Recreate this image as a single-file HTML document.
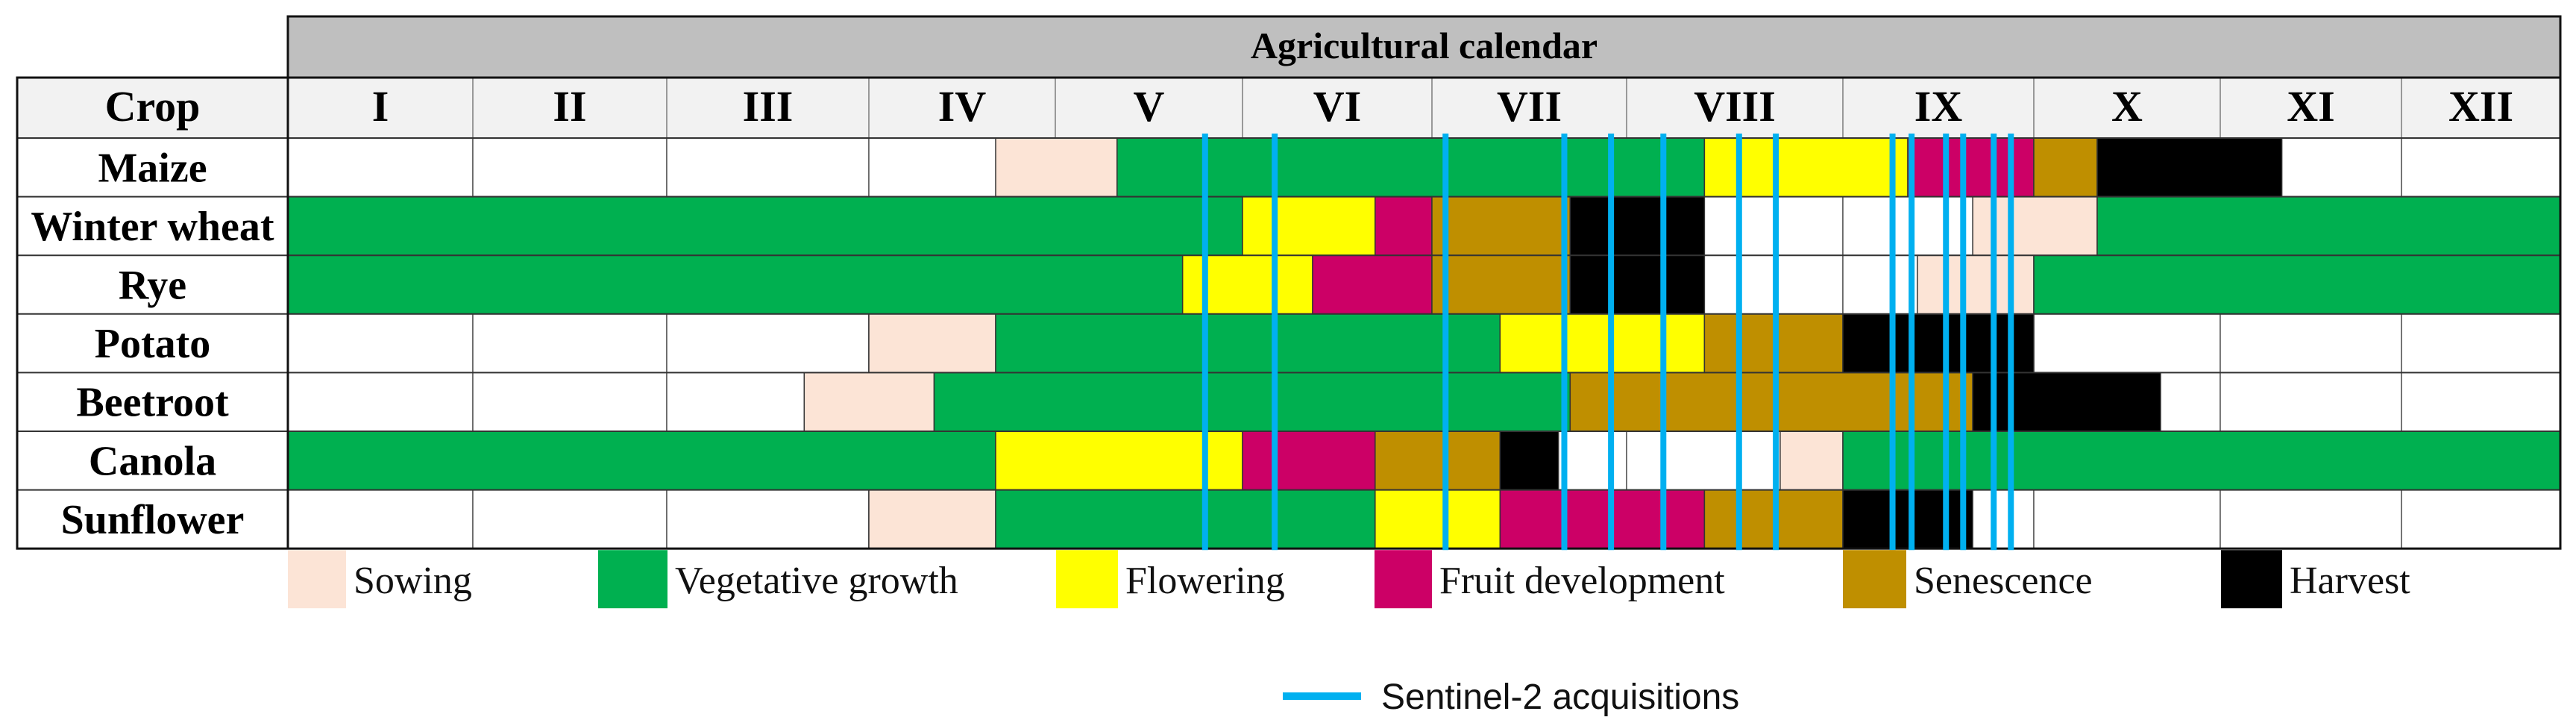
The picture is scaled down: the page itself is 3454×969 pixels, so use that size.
<!DOCTYPE html>
<html><head><meta charset="utf-8"><style>
html,body{margin:0;padding:0;background:#fff;}
svg{display:block;}
</style></head>
<body>
<svg id="chart" width="3454" height="969" xmlns="http://www.w3.org/2000/svg">
<g id="layer-bg"></g>
<g id="layer-seg"></g>
<g id="layer-grid"></g>
<g id="layer-lines"></g>
<g id="layer-text"></g>
</svg>
<script>
// ---- data ----
const months = ["I","II","III","IV","V","VI","VII","VIII","IX","X","XI","XII"];
const crops = ["Maize","Winter wheat","Rye","Potato","Beetroot","Canola","Sunflower"];
const phaseNames = ["Sowing","Vegetative growth","Flowering","Fruit development","Senescence","Harvest"];
// segments per crop: [startMonth, endMonth, phaseIndex] (months as fractional 0..12)
const maizeSegs = [[3.68,4.33,0],[4.33,7.36,1],[7.36,8.34,2],[8.34,9.0,3],[9.0,9.34,4],[9.34,10.34,5]];
const wheatSegs = [[0,5.0,1],[5.0,5.7,2],[5.7,6.0,3],[6.0,6.71,4],[6.71,7.36,5],[8.68,9.34,0],[9.34,12,1]];
const ryeSegs = [[0,4.68,1],[4.68,5.37,2],[5.37,6.0,3],[6.0,6.71,4],[6.71,7.36,5],[8.39,9.0,0],[9.0,12,1]];
const potatoSegs = [[3.0,3.68,0],[3.68,6.35,1],[6.35,7.36,2],[7.36,8.0,4],[8.0,9.0,5]];
const beetSegs = [[2.68,3.35,0],[3.35,6.71,1],[6.71,8.68,4],[8.68,9.68,5]];
const canolaSegs = [[0,3.68,1],[3.68,5.0,2],[5.0,5.7,3],[5.7,6.35,4],[6.35,6.65,5],[7.71,8.0,0],[8.0,12,1]];
const sunSegs = [[3.0,3.68,0],[3.68,5.7,1],[5.7,6.35,2],[6.35,7.36,3],[7.36,8.0,4],[8.0,8.68,5]];
const cropSegs = [maizeSegs,wheatSegs,ryeSegs,potatoSegs,beetSegs,canolaSegs,sunSegs];
// Sentinel-2 acquisition dates (fractional month)
const acquisitions = [4.80,5.17,6.07,6.68,6.92,7.17,7.52,7.69,8.26,8.36,8.54,8.63,8.79,8.88];

// ---- layout ----
const phaseColors = ["#fce4d6","#00b050","#ffff00","#cc0066","#bf8f00","#000000"];
const monthEdges = [386,634,894,1165,1415,1666,1920,2181,2471,2727,2977,3220,3433];
const tableLeft = 23, titleTop = 22, headerTop = 104, rowTop = 185, rowH = 78.6;
const NS = "http://www.w3.org/2000/svg";
function xScale(m){ const i=Math.min(11,Math.floor(m)); return monthEdges[i]+(m-i)*(monthEdges[i+1]-monthEdges[i]); }
function yRow(r){ return rowTop + r*rowH; }
function mk(tag, attrs, parent){ const e=document.createElementNS(NS,tag); for(const k in attrs) e.setAttribute(k,attrs[k]); parent.appendChild(e); return e; }
const bg=document.getElementById('layer-bg'), seg=document.getElementById('layer-seg'), grid=document.getElementById('layer-grid'), lines=document.getElementById('layer-lines'), txt=document.getElementById('layer-text');
const right = monthEdges[12], bottom = yRow(crops.length);

let t = mk('rect',{x:386,y:titleTop,width:right-386,height:headerTop-titleTop,fill:'#bfbfbf',stroke:'#111','stroke-width':3},bg);


let tt = mk('text',{x:(386+right)/2,y:titleTop+56,'text-anchor':'middle','font-family':'"Liberation Serif",serif','font-weight':'bold','font-size':50,fill:'#000'},txt);
tt.textContent='Agricultural calendar';


let h = mk('rect',{x:tableLeft,y:headerTop,width:right-tableLeft,height:rowTop-headerTop,fill:'#f2f2f2'},bg);


let ct = mk('text',{x:(tableLeft+386)/2,y:headerTop+58,'text-anchor':'middle','font-family':'"Liberation Serif",serif','font-weight':'bold','font-size':58},txt);
ct.textContent='Crop';


months.forEach((m,i)=>{
  const e=mk('text',{x:(monthEdges[i]+monthEdges[i+1])/2,y:headerTop+58,'text-anchor':'middle','font-family':'"Liberation Serif",serif','font-weight':'bold','font-size':58},txt);
  e.textContent=m;
  
  
  if(i>0){ const l=mk('line',{x1:monthEdges[i],y1:headerTop,x2:monthEdges[i],y2:rowTop,stroke:'#999','stroke-width':2},grid);
    
     }
});
crops.forEach((c,r)=>{
  const y=yRow(r);
  const lab=mk('text',{x:(tableLeft+386)/2,y:y+rowH/2+19,'text-anchor':'middle','font-family':'"Liberation Serif",serif','font-weight':'bold','font-size':56},txt);
  lab.textContent=c;
  
  
  months.forEach((m,i)=>{
    const cell=mk('rect',{x:monthEdges[i],y:y,width:monthEdges[i+1]-monthEdges[i],height:rowH,fill:'#fff',stroke:'#555','stroke-width':1.5},bg);
    
    
  });
  cropSegs[r].forEach(s=>{
    const x0=xScale(s[0]), x1=xScale(s[1]);
    const rc=mk('rect',{x:x0,y:y,width:x1-x0,height:rowH,fill:phaseColors[s[2]],stroke:'#333','stroke-width':1.5},seg);
    
    
  });
  const rl=mk('line',{x1:tableLeft,y1:y,x2:right,y2:y,stroke:'#333','stroke-width':2},grid);
  
  
});
let ob=mk('rect',{x:tableLeft,y:headerTop,width:right-tableLeft,height:bottom-headerTop,fill:'none',stroke:'#111','stroke-width':3},grid);


let vl=mk('line',{x1:386,y1:headerTop,x2:386,y2:bottom,stroke:'#111','stroke-width':3},grid);


acquisitions.forEach(a=>{
  const x=xScale(a);
  const l=mk('line',{x1:x,y1:rowTop-6,x2:x,y2:bottom+2,stroke:'#00b0f0','stroke-width':8},lines);
  
  
});
const legBoxX=[386,802,1416,1843,2471,2978], legBoxW=[78,93,83,77,85,82];
phaseNames.forEach((p,i)=>{
  const b=mk('rect',{x:legBoxX[i],y:bottom+2,width:legBoxW[i],height:78,fill:phaseColors[i]},txt);
  
  
  const e=mk('text',{x:legBoxX[i]+legBoxW[i]+10,y:bottom+60,'font-family':'"Liberation Serif",serif','font-size':52,fill:'#111'},txt);
  e.textContent=p;
  
  
});
let sl=mk('line',{x1:1720,y1:933,x2:1825,y2:933,stroke:'#00b0f0','stroke-width':10},txt);


let st=mk('text',{x:1852,y:950,'font-family':'"Liberation Sans",sans-serif','font-size':48,fill:'#111'},txt);
st.textContent='Sentinel-2 acquisitions';


</script>
</body></html>
